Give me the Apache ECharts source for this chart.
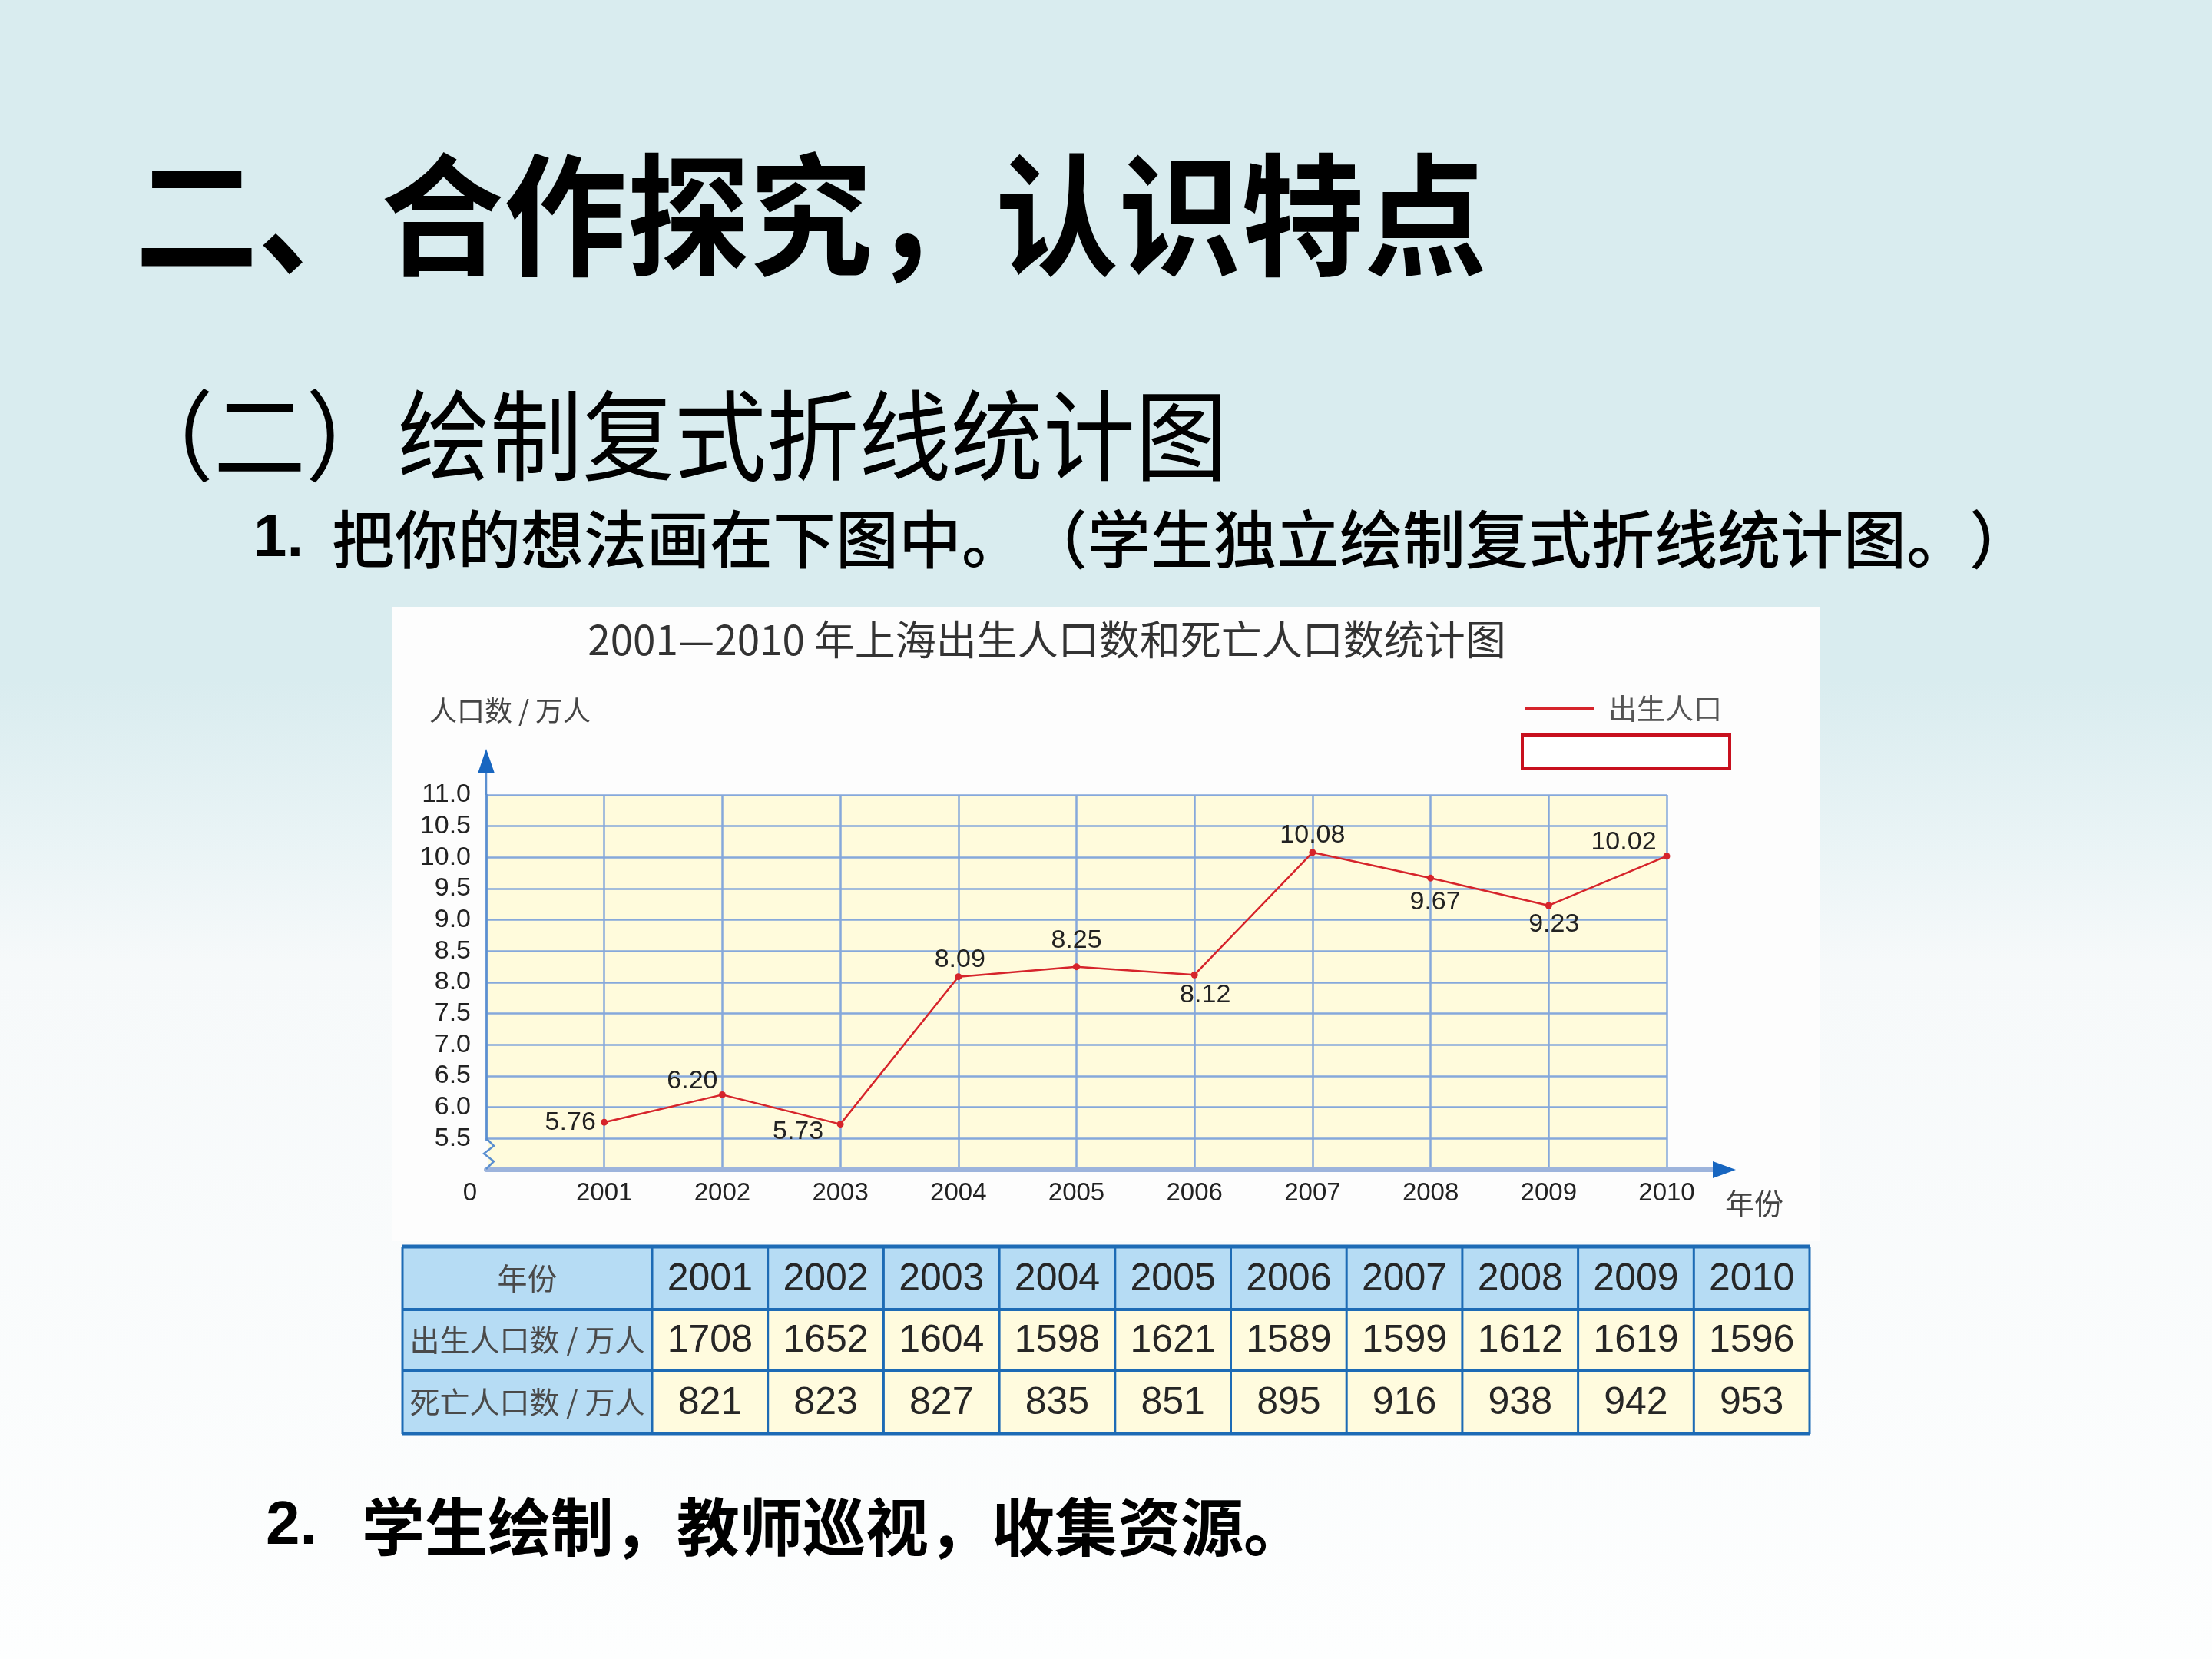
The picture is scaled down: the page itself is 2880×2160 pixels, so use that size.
<!DOCTYPE html>
<html>
<head>
<meta charset="utf-8">
<script src="https://cdn.jsdelivr.net/npm/echarts@6/dist/echarts.min.js"></script>
<style>
html,body{margin:0;padding:0;background:#fff;}
#main{width:2880px;height:2160px;}
</style>
</head>
<body>
<div id="main"></div>
<script>
// ---------- data ----------
const years = [2001, 2002, 2003, 2004, 2005, 2006, 2007, 2008, 2009, 2010];
const birthRate = [5.76, 6.20, 5.73, 8.09, 8.25, 8.12, 10.08, 9.67, 9.23, 10.02];
const birthCount = [1708, 1652, 1604, 1598, 1621, 1589, 1599, 1612, 1619, 1596];
const deathCount = [821, 823, 827, 835, 851, 895, 916, 938, 942, 953];
const rowLabels = ['年份', '出生人口数 / 万人', '死亡人口数 / 万人'];
const seriesName = '出生人口';
const chartTitle = '2001—2010 年上海出生人口数和死亡人口数统计图';
const yAxisName = '人口数 / 万人';
const xAxisName = '年份';

// ---------- styles / layout ----------
const labelOffsets = [[-44,0],[-39,-18],[-55,10],[2,-22],[0,-34],[14,26],[0,-22],[6,31],[7,25],[-56,-18]];
const GL = 633, GT = 1035, GW = 1537, GH = 488;
const NUM = "'Liberation Sans', Arial, sans-serif";
const CJK = "'Noto Sans CJK SC', sans-serif";
const gridBlue = '#86a8db';
const axisBlue = '#5b8fd0';
const arrowBlue = '#1866c0';
const red = '#d6242b';

const chart = echarts.init(document.getElementById('main'), null, {renderer: 'canvas'});

const graphics = [];
// chart panel
graphics.push({type:'rect', z:-10, silent:true, shape:{x:511,y:790,width:1858,height:826}, style:{fill:'#fdfdfd'}});

// headings
function heading(text, x, y, size, weight, scaleY, sh) {
  graphics.push({type:'text', silent:true, x:x, y:y, scaleY:scaleY, z:5,
    style:{text:text, x:0, y:0, fill:'#000', align:'left', verticalAlign:'middle',
      font: weight + ' ' + size + 'px ' + CJK,
      textShadowColor:'rgba(100,100,100,0.85)', textShadowOffsetX:sh, textShadowOffsetY:sh, textShadowBlur:0}});
}
heading('二、合作探究，认识特点', 176, 280, 160, 'bold', 1.07, 6);
heading('（二）绘制复式折线统计图', 158, 567, 120, 'normal', 1.07, 3);
graphics.push({type:'text', silent:true, x:330, y:702, z:5, style:{text:'1.', fill:'#000', align:'left', verticalAlign:'middle', font:'bold 78px ' + NUM, textShadowColor:'rgba(100,100,100,0.8)', textShadowOffsetX:2, textShadowOffsetY:2}});
// split at adjacent punctuation so each full-width mark keeps its full width
const L3 = ['把你的想法画在下图中。', '（学生独立绘制复式折线统计图。', '）'];
let l3x = 432;
L3.forEach(seg => { heading(seg, l3x, 702, 82, '500', 1.0, 2); l3x += seg.length * 82; });
graphics.push({type:'text', silent:true, x:346, y:1988, z:5, style:{text:'2.', fill:'#000', align:'left', verticalAlign:'middle', font:'bold 80px ' + NUM, textShadowColor:'rgba(100,100,100,0.8)', textShadowOffsetX:3, textShadowOffsetY:3}});
heading('学生绘制，教师巡视，收集资源。', 471, 1988, 82, 'bold', 1.0, 3);

// axis arrows (extensions of the axis lines)
graphics.push({type:'line', silent:true, z:20, shape:{x1:GL+GW, y1:GT+GH, x2:GL+GW+66, y2:GT+GH}, style:{stroke:'#9db4dc', lineWidth:6}});
graphics.push({type:'polygon', silent:true, z:21, shape:{points:[[GL+GW+60,GT+GH-11],[GL+GW+90,GT+GH],[GL+GW+60,GT+GH+11]]}, style:{fill:arrowBlue}});
graphics.push({type:'line', silent:true, z:20, shape:{x1:GL, y1:GT, x2:GL, y2:GT-32}, style:{stroke:axisBlue, lineWidth:2.5}});
graphics.push({type:'polygon', silent:true, z:21, shape:{points:[[GL-11,GT-28],[GL,GT-60],[GL+11,GT-28]]}, style:{fill:arrowBlue}});
// x axis name, placed below the arrow
graphics.push({type:'text', silent:true, z:21, style:{text:xAxisName, x:GL+GW+76, y:GT+GH+44, fill:'#444', align:'left', verticalAlign:'middle', font:'38px ' + CJK}});
// axis break zigzag
graphics.push({type:'rect', silent:true, z:20, shape:{x:GL-3, y:GT+GH-38, width:6, height:34}, style:{fill:'#fdfdfd'}});
graphics.push({type:'polyline', silent:true, z:21, shape:{points:[[GL,GT+GH-41],[GL+10,GT+GH-31],[GL-3,GT+GH-21],[GL+10,GT+GH-11],[GL,GT+GH-1]]}, style:{stroke:axisBlue, lineWidth:2.5, fill:null}});
// empty legend box
graphics.push({type:'rect', silent:true, z:5, shape:{x:1982,y:957,width:270,height:44}, style:{fill:'#fff', stroke:'#c8101e', lineWidth:4}});

// data table
const TX = 524, TY = 1623, C0 = 325, TW = 2356 - 524;
const CW = (TW - C0) / years.length;
const rowH = [82, 79, 83];
const rowY = [TY, TY + rowH[0], TY + rowH[0] + rowH[1], TY + rowH[0] + rowH[1] + rowH[2]];
const tableRows = [years, birthCount, deathCount];
for (let r = 0; r < 3; r++) {
  graphics.push({type:'rect', silent:true, z:2, shape:{x:TX, y:rowY[r], width:C0, height:rowH[r]}, style:{fill:'#b6dcf4'}});
  graphics.push({type:'text', silent:true, z:4, style:{text:rowLabels[r], x:TX + C0/2, y:rowY[r] + rowH[r]/2, fill:'#4a4a4a', align:'center', verticalAlign:'middle', font:'39px ' + CJK}});
  for (let c = 0; c < years.length; c++) {
    const cx = TX + C0 + c*CW;
    graphics.push({type:'rect', silent:true, z:2, shape:{x:cx, y:rowY[r], width:CW, height:rowH[r]}, style:{fill: r === 0 ? '#b6dcf4' : '#fffbde'}});
    graphics.push({type:'text', silent:true, z:4, style:{text:String(tableRows[r][c]), x:cx + CW/2, y:rowY[r] + rowH[r]/2 + 2, fill:'#262626', align:'center', verticalAlign:'middle', font:'50px ' + NUM}});
  }
}
for (let i = 0; i < rowY.length; i++) {
  graphics.push({type:'line', silent:true, z:3, shape:{x1:TX, y1:rowY[i], x2:TX+TW, y2:rowY[i]}, style:{stroke:'#1d6bb5', lineWidth:(i === 0 || i === 3) ? 5 : 4}});
}
for (let c = 0; c <= years.length + 1; c++) {
  const x = c === 0 ? TX : TX + C0 + (c-1)*CW;
  graphics.push({type:'line', silent:true, z:3, shape:{x1:x, y1:TY, x2:x, y2:rowY[3]}, style:{stroke:'#1d6bb5', lineWidth:3}});
}

const option = {
  animation: false,
  backgroundColor: {type:'linear', x:0, y:0, x2:0, y2:1, colorStops:[
    {offset:0, color:'#d9ecef'}, {offset:0.41, color:'#d9ecef'}, {offset:0.5, color:'#e8f3f5'},
    {offset:0.58, color:'#f6f9fa'}, {offset:1, color:'#fdfefe'}]},
  title: {text: chartTitle, left: 1363, top: 806, textAlign: 'center', padding: 0,
    textStyle: {fontSize: 53, fontWeight: 'normal', color: '#333', fontFamily: "'Liberation Sans Narrow', 'Noto Sans CJK SC', sans-serif"}},
  legend: {data: [{name: seriesName, icon: 'rect'}], left: 1985, top: 904, padding: 0,
    itemWidth: 90, itemHeight: 4,
    textStyle: {fontSize: 37, color: '#555', fontFamily: CJK, padding: [0, 0, 0, 14]}},
  grid: {left: GL, top: GT, width: GW, height: GH, show: true, backgroundColor: '#fffbdc', borderWidth: 0, containLabel: false},
  xAxis: {type: 'value', min: 2000, max: 2010, interval: 1,
    axisLine: {show: true, lineStyle: {color: '#9db4dc', width: 6}},
    axisTick: {show: false},
    axisLabel: {margin: 14, fontSize: 33, color: '#222', fontFamily: NUM,
      formatter: v => v === 2000 ? '{z|0}' : String(v),
      rich: {z: {fontSize: 33, color: '#222', fontFamily: NUM, padding: [0, 42, 0, 0]}}},
    splitLine: {show: true, lineStyle: {color: gridBlue, width: 2.5}}},
  yAxis: {type: 'value', min: 5, max: 11, interval: 0.5,
    name: yAxisName, nameLocation: 'end', nameGap: 92,
    nameTextStyle: {fontSize: 36, color: '#444', fontFamily: CJK, align: 'center', padding: [0, 0, 0, 62]},
    axisLine: {show: true, lineStyle: {color: axisBlue, width: 2.5}},
    axisTick: {show: false},
    axisLabel: {margin: 20, fontSize: 34, color: '#222', fontFamily: NUM,
      formatter: v => v === 5 ? '' : v.toFixed(1)},
    splitLine: {show: true, lineStyle: {color: gridBlue, width: 2.5}}},
  series: [{
    name: seriesName, type: 'line',
    data: years.map((y, i) => ({value: [y, birthRate[i]], label: {offset: labelOffsets[i]}})),
    symbol: 'circle', symbolSize: 9,
    lineStyle: {color: red, width: 2.5},
    itemStyle: {color: red},
    label: {show: true, position: 'inside', align: 'center', verticalAlign: 'middle',
      fontSize: 34, color: '#222', fontFamily: NUM,
      formatter: p => p.value[1].toFixed(2)},
    z: 10
  }],
  graphic: graphics
};
chart.setOption(option);
</script>
</body>
</html>
